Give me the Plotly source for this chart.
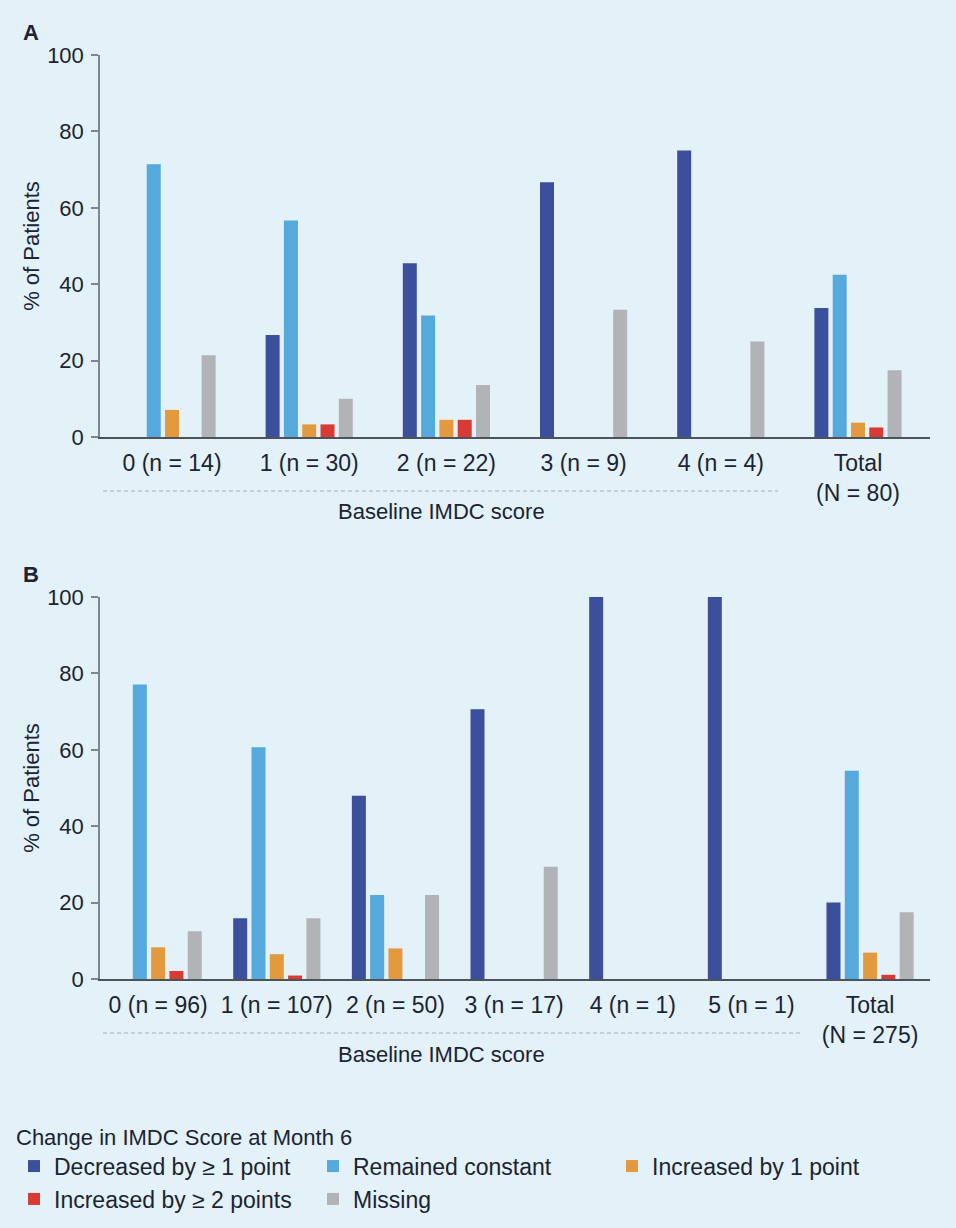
import plotly.graph_objects as go

# ---------------- data ----------------
categories_a = ["0 (n = 14)", "1 (n = 30)", "2 (n = 22)", "3 (n = 9)", "4 (n = 4)", "Total<br>(N = 80)"]
decreased_a = [0, 26.7, 45.5, 66.7, 75.0, 33.75]
constant_a = [71.4, 56.7, 31.8, 0, 0, 42.5]
inc1_a = [7.1, 3.3, 4.5, 0, 0, 3.75]
inc2_a = [0, 3.3, 4.5, 0, 0, 2.5]
missing_a = [21.4, 10.0, 13.6, 33.3, 25.0, 17.5]

categories_b = ["0 (n = 96)", "1 (n = 107)", "2 (n = 50)", "3 (n = 17)", "4 (n = 1)", "5 (n = 1)", "Total<br>(N = 275)"]
decreased_b = [0, 15.9, 48.0, 70.6, 100, 100, 20.0]
constant_b = [77.1, 60.7, 22.0, 0, 0, 0, 54.5]
inc1_b = [8.3, 6.5, 8.0, 0, 0, 0, 6.9]
inc2_b = [2.1, 0.9, 0, 0, 0, 0, 1.1]
missing_b = [12.5, 15.9, 22.0, 29.4, 0, 0, 17.5]

series_names = ["Decreased by \u2265 1 point", "Remained constant", "Increased by 1 point",
                "Increased by \u2265 2 points", "Missing"]
colors = ["#3b4f9d", "#56a9dc", "#e3993e", "#d93a33", "#b2b3b6"]

# ---------------- style ----------------
W, H = 956, 1228
BG = "#e3f1f9"
TXT = "#1c2331"
FONT = "Liberation Sans, Arial, sans-serif"

def py(p):  # pixel y -> paper
    return 1 - p / H

def px(p):  # pixel x -> paper
    return p / W

fig = go.Figure()

panels = [
    (categories_a, [decreased_a, constant_a, inc1_a, inc2_a, missing_a], "x", "y", 137.2, True),
    (categories_b, [decreased_b, constant_b, inc1_b, inc2_b, missing_b], "x2", "y2", 118.67, False),
]

for cats, vals, xa, ya, catpx, showleg in panels:
    slot = 18.3 / catpx
    bw = 14.0 / catpx
    for i, (name, col, v) in enumerate(zip(series_names, colors, vals)):
        fig.add_trace(go.Bar(
            x=cats, y=v, name=name, xaxis=xa, yaxis=ya,
            marker=dict(color=col, line=dict(width=0)),
            width=bw, offset=(i - 2) * slot - bw / 2,
            showlegend=showleg, legendgroup=name, hoverinfo="x+y+name",
        ))

xdom = [px(100), px(930)]
axis_common_y = dict(
    range=[0, 100], tickvals=[0, 20, 40, 60, 80, 100], showgrid=False, zeroline=False,
    showline=True, linecolor="#7d8791", linewidth=1.5,
    ticks="outside", ticklen=7, tickwidth=1.5, tickcolor="#7d8791",
    tickfont=dict(size=22, color=TXT, family=FONT), ticklabelstandoff=3,
    title=dict(text="% of Patients", font=dict(size=22, color=TXT, family=FONT), standoff=1),
)
axis_common_x = dict(
    type="category", showgrid=False, zeroline=False, showline=True, linecolor="#4d5359", linewidth=1.5,
    ticks="outside", ticklen=5, tickcolor="rgba(0,0,0,0)",
    tickfont=dict(size=23, color=TXT, family=FONT),
)

fig.update_layout(
    width=W, height=H, autosize=False,
    margin=dict(l=0, r=0, t=0, b=0, autoexpand=False),
    paper_bgcolor=BG, plot_bgcolor=BG,
    barmode="overlay",
    font=dict(family=FONT, color=TXT),
    xaxis=dict(domain=xdom, anchor="y", range=[-0.525, 5.525], **axis_common_x),
    yaxis=dict(domain=[py(437), py(55)], anchor="x", **axis_common_y),
    xaxis2=dict(domain=xdom, anchor="y2", range=[-0.49, 6.505], **axis_common_x),
    yaxis2=dict(domain=[py(979), py(597)], anchor="x2", **axis_common_y),
    legend=dict(
        orientation="h", x=px(14), y=py(1116), xanchor="left", yanchor="top",
        font=dict(size=23, color=TXT, family=FONT),
        title=dict(text="Change in IMDC Score at Month 6", side="top",
                   font=dict(size=22, color=TXT, family=FONT)),
        entrywidth=254, entrywidthmode="pixels", itemwidth=30,
        bgcolor="rgba(0,0,0,0)", traceorder="normal",
    ),
    showlegend=True,
)

# panel letters
for letter, yp in [("A", 32), ("B", 574)]:
    fig.add_annotation(text=f"<b>{letter}</b>", x=px(21), y=py(yp), xref="paper", yref="paper",
                       xanchor="left", yanchor="middle", showarrow=False,
                       font=dict(size=22, color=TXT, family=FONT))

# axis group labels and dashed lines
for (x0, x1, ly, ty) in [(103, 778, 491, 512), (103, 800, 1033, 1054)]:
    fig.add_shape(type="line", xref="paper", yref="paper", x0=px(x0), x1=px(x1), y0=py(ly), y1=py(ly),
                  line=dict(color="#a6b0b8", width=1.2, dash="4px,3px"))
    fig.add_annotation(text="Baseline IMDC score", x=px(441), y=py(ty), xref="paper", yref="paper",
                       xanchor="center", yanchor="middle", showarrow=False,
                       font=dict(size=22, color=TXT, family=FONT))

fig.write_html("out.html")
